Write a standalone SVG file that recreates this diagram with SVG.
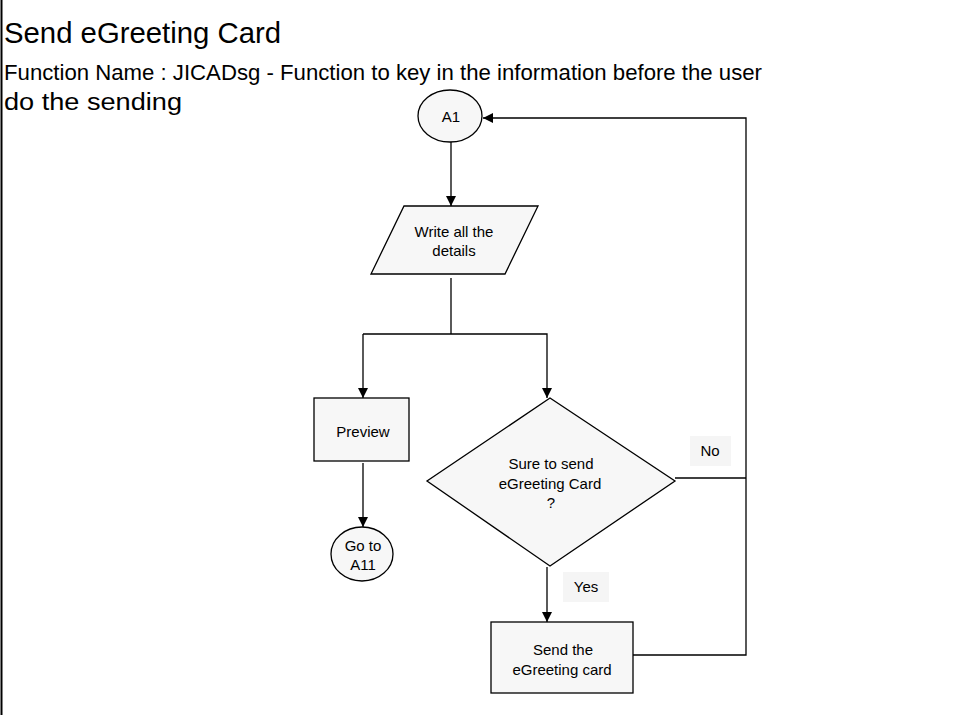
<svg xmlns="http://www.w3.org/2000/svg" width="953" height="715" viewBox="0 0 953 715">
<defs>
<style>
.shape{fill:#f7f7f7;stroke:#000;stroke-width:1.3}
.line{fill:none;stroke:#000;stroke-width:1.3}
.t{font-family:"Liberation Sans",Arial,sans-serif;font-size:15px;fill:#000;text-anchor:middle}
.h{font-family:"Liberation Sans",Arial,sans-serif;fill:#000}
.lbl{fill:#f5f5f5;stroke:none}
</style>
<marker id="arr" viewBox="0 0 10 10" refX="10" refY="5" markerWidth="10" markerHeight="10" markerUnits="userSpaceOnUse" orient="auto">
<path d="M0,0 L10,5 L0,10 z" fill="#000"/>
</marker>
</defs>
<rect x="0" y="0" width="953" height="715" fill="#fff"/>
<line x1="1.5" y1="0" x2="1.5" y2="715" stroke="#000" stroke-width="2"/>
<text class="h" x="4" y="43" font-size="29" textLength="277" lengthAdjust="spacingAndGlyphs">Send eGreeting Card</text>
<text class="h" x="4" y="80" font-size="22" textLength="758" lengthAdjust="spacingAndGlyphs">Function Name : JICADsg - Function to key in the information before the user</text>
<text class="h" x="4" y="110" font-size="23" textLength="178" lengthAdjust="spacingAndGlyphs">do the sending</text>

<g id="connectors">
<line class="line" x1="451" y1="142" x2="451" y2="206" marker-end="url(#arr)"/>
<polyline class="line" points="451,278 451,334"/>
<polyline class="line" points="363,334 547,334 547,398" marker-end="url(#arr)"/>
<line class="line" x1="363" y1="334" x2="363" y2="398" marker-end="url(#arr)"/>
<line class="line" x1="363" y1="463" x2="363" y2="527" marker-end="url(#arr)"/>
<line class="line" x1="547" y1="567" x2="547" y2="622" marker-end="url(#arr)"/>
<polyline class="line" points="633,655 746,655 746,118 483,118" marker-end="url(#arr)"/>
<line class="line" x1="675" y1="478" x2="746" y2="478"/>
</g>

<g id="A1">
<ellipse class="shape" cx="450" cy="116" rx="32" ry="26"/>
<text class="t" x="451" y="122">A1</text>
</g>
<g id="write">
<polygon class="shape" points="404,206 538,206 505,274 371,274"/>
<text class="t" x="454" y="237">Write all the</text>
<text class="t" x="454" y="256">details</text>
</g>
<g id="preview">
<rect class="shape" x="314" y="398" width="95" height="63"/>
<text class="t" x="363" y="437">Preview</text>
</g>
<g id="goto">
<ellipse class="shape" cx="362" cy="554" rx="31" ry="27"/>
<text class="t" x="363" y="551">Go to</text>
<text class="t" x="363" y="570">A11</text>
</g>
<g id="decision">
<polygon class="shape" points="550,398 675,481 550,566 427,481"/>
<text class="t" x="551" y="469">Sure to send</text>
<text class="t" x="550" y="489">eGreeting Card</text>
<text class="t" x="551" y="508">?</text>
</g>
<g id="send">
<rect class="shape" x="491" y="622" width="142" height="71"/>
<text class="t" x="563" y="655">Send the</text>
<text class="t" x="562" y="675">eGreeting card</text>
</g>
<g id="labels">
<rect class="lbl" x="690" y="436" width="41" height="30"/>
<text class="t" x="710" y="456">No</text>
<rect class="lbl" x="563" y="572" width="46" height="30"/>
<text class="t" x="586" y="592">Yes</text>
</g>
</svg>
